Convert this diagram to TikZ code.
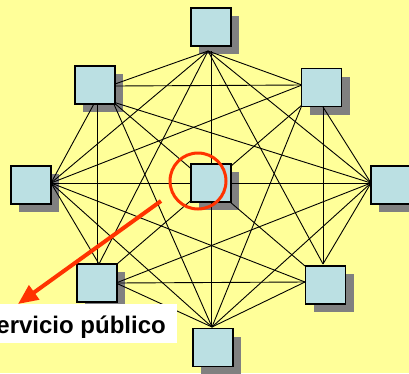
\documentclass[tikz,border=0pt]{standalone}
\usepackage{fontspec}
\setmainfont{Liberation Sans}
\usetikzlibrary{arrows.meta}
\definecolor{bg}{HTML}{FFFF99}
\definecolor{boxfill}{HTML}{BBE0E3}
\definecolor{shadowgray}{HTML}{808080}
\definecolor{hl}{HTML}{FF3300}
\begin{document}
\begin{tikzpicture}[x=1pt,y=-1pt,
  box/.style={draw=black, line width=1.2pt, fill=boxfill, minimum width=40pt, minimum height=38pt, inner sep=0pt, outer sep=0pt},
  shade/.style={fill=shadowgray, draw=none, minimum width=40pt, minimum height=38pt, inner sep=0pt, outer sep=0pt},
  link/.style={draw=black, line width=0.9pt},
  ring/.style={draw=hl, line width=3pt, circle, minimum size=56pt, inner sep=0pt},
  pointer/.style={draw=hl, line width=4pt, -{Triangle[length=20pt,width=17pt]}},
  tag/.style={fill=white, inner xsep=11pt, inner ysep=0pt, text height=29pt, text depth=10pt, font=\bfseries\fontsize{24}{28}\selectfont}]
\fill[bg] (0,0) rectangle (409,373);
\useasboundingbox (0,0) rectangle (409,373);
% shadows
\node[shade] (Ts) at (219,35) {};
\node[shade] (ULs) at (103,93) {};
\node[shade] (URs) at (329.5,95.5) {};
\node[shade] (Ls) at (39,193) {};
\node[shade] (Cs) at (219,191) {};
\node[shade] (Rs) at (399,193) {};
\node[shade] (LLs) at (105,291) {};
\node[shade] (LRs) at (333.5,293) {};
\node[shade] (Bs) at (221,355.5) {};
% connection points
\coordinate (t) at (208,51);
\coordinate (tv) at (211,51);
\coordinate (ula) at (115,84);
\coordinate (ulb) at (115,86);
\coordinate (ulc) at (95,102);
\coordinate (ulv) at (97,104);
\coordinate (uld) at (113,102);
\coordinate (ura) at (302,85);
\coordinate (urb) at (302,105);
\coordinate (urc) at (323,107);
\coordinate (l) at (51,183);
\coordinate (r) at (371,183);
\coordinate (lla) at (99,264);
\coordinate (llv) at (97,264);
\coordinate (llb) at (117,264);
\coordinate (llc) at (116,283);
\coordinate (lra) at (323,264);
\coordinate (lrb) at (305,266);
\coordinate (lrc) at (305,282);
\coordinate (b) at (212,327);
\coordinate (bv) at (211,327);
% edges
\draw[link] (t) -- (ula);
\draw[link] (t) -- (ura);
\draw[link] (t) -- (l);
\draw[link] (t) -- (r);
\draw[link] (t) -- (lla);
\draw[link] (t) -- (lra);
\draw[link] (tv) -- (bv);
\draw[link] (ulb) -- (ura);
\draw[link] (ulc) -- (l);
\draw[link] (uld) -- (r);
\draw[link] (ulv) -- (llv);
\draw[link] (uld) -- (lrb);
\draw[link] (uld) -- (b);
\draw[link] (ura) -- (l);
\draw[link] (urc) -- (r);
\draw[link] (urb) -- (llb);
\draw[link] (urc) -- (lra);
\draw[link] (urb) -- (b);
\draw[link] (l) -- (r);
\draw[link] (l) -- (lla);
\draw[link] (l) -- (lrc);
\draw[link] (l) -- (b);
\draw[link] (r) -- (llc);
\draw[link] (r) -- (lra);
\draw[link] (r) -- (b);
\draw[link] (llc) -- (lrc);
\draw[link] (llc) -- (b);
\draw[link] (lrc) -- (b);
% boxes
\node[box] (T) at (211,27) {};
\node[box] (UL) at (95,85) {};
\node[box] (UR) at (321.5,87.5) {};
\node[box] (L) at (31,185) {};
\node[box] (C) at (211,183) {};
\node[box] (R) at (391,185) {};
\node[box] (LL) at (97,283) {};
\node[box] (LR) at (325.5,285) {};
\node[box] (B) at (213,347.5) {};
% highlight
\node[ring] (circ) at (198,181) {};
\node[tag, anchor=base east] (label) at (177,333) {Servicio público};
\coordinate (arrowfrom) at (161,201);
\coordinate (arrowto) at (18,304);
\draw[pointer] (arrowfrom) -- (arrowto);
\end{tikzpicture}
\end{document}
